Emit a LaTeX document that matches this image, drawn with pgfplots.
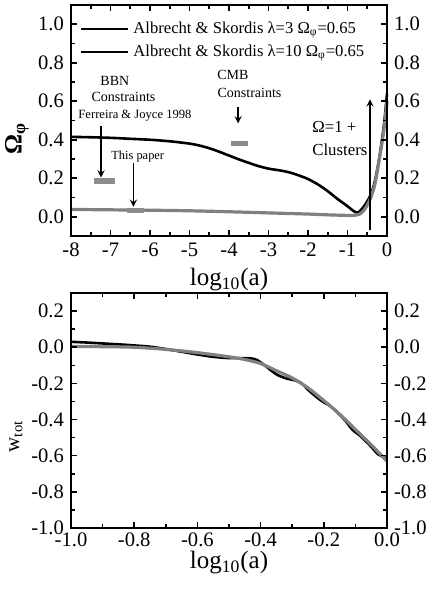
\documentclass[border=0pt]{standalone}
\usepackage{fontspec}
\setmainfont{Liberation Serif}
\usepackage{pgfplots}
\pgfplotsset{compat=1.18}
\definecolor{cgray}{RGB}{128,128,128}
\definecolor{bargray}{RGB}{140,140,140}
\begin{document}
\begin{tikzpicture}
\pgfplotsset{
  common/.style={
    scale only axis, width=158pt,
    axis line style={line width=1pt},
    every tick/.style={black, line width=0.8pt},
    major tick length=3pt, minor tick length=1.8pt,
    tick align=inside, xtick pos=both, ytick pos=both,
    tick label style={font=\fontsize{10.3}{12}\selectfont},
    label style={font=\fontsize{12.5}{14}\selectfont},
    clip=false,
  },
  topx/.style={xmin=-8, xmax=0, ymin=-0.1, ymax=1.1,
    xtick={-8,-7,-6,-5,-4,-3,-2,-1,0}, xticklabels={-8,-7,-6,-5,-4,-3,-2,-1,0},
    ytick={0,0.2,0.4,0.6,0.8,1.0}, yticklabels={0.0,0.2,0.4,0.6,0.8,1.0},
    minor x tick num=1, minor y tick num=1},
  botx/.style={xmin=-1, xmax=0, ymin=-1, ymax=0.3,
    xtick={-1,-0.8,-0.6,-0.4,-0.2,0}, xticklabels={-1.0,-0.8,-0.6,-0.4,-0.2,0.0},
    ytick={-1,-0.8,-0.6,-0.4,-0.2,0,0.2}, yticklabels={-1.0,-0.8,-0.6,-0.4,-0.2,0.0,0.2},
    minor x tick num=1, minor y tick num=1,
    xticklabel style={yshift=1pt}},
}
% ---------------- top panel ----------------
\begin{axis}[common, topx, height=115.5pt,
  at={(35.5pt,-118pt)}, anchor=south west,
  xlabel={log\textsubscript{10}(a)},
  xlabel style={at={(axis description cs:0.5,-0.19)}, anchor=center},
  ylabel={\textbf{Ω}\textsubscript{\textbf{φ}}},
  ylabel style={at={(axis description cs:-0.171,0.424)}, anchor=center, rotate=0},
  legend style={at={(axis cs:-7.78,1.035)}, anchor=north west, draw=none, fill=none,
    font=\fontsize{8.3}{10}\selectfont, inner sep=0pt, row sep=0pt,
    legend cell align=left},
]
\addlegendimage{legend image code/.code={\draw[black,line width=1.2pt] (0pt,0pt) -- (23.5pt,0pt);}}
\addlegendentry{Albrecht \& Skordis λ=3 Ω\textsubscript{φ}=0.65}
\addlegendimage{legend image code/.code={\draw[black,line width=1.2pt] (0pt,0pt) -- (23.5pt,0pt);}}
\addlegendentry{Albrecht \& Skordis λ=10 Ω\textsubscript{φ}=0.65}
\addplot[black, line width=1.3pt, smooth, tension=0.5, forget plot] coordinates {
(-8,0.415) (-7.5,0.413) (-7,0.41) (-6.5,0.405) (-6,0.40) (-5.5,0.392) (-5,0.38)
(-4.75,0.37) (-4.5,0.356) (-4.25,0.338) (-4,0.318) (-3.75,0.298) (-3.5,0.28)
(-3.25,0.263) (-3,0.25) (-2.75,0.242) (-2.5,0.232) (-2.25,0.216) (-2,0.196)
(-1.75,0.168) (-1.5,0.133) (-1.25,0.092) (-1.0,0.055) (-0.9,0.038) (-0.8,0.024)
(-0.75,0.022) (-0.7,0.026) (-0.6,0.05) (-0.5,0.08) (-0.4,0.12) (-0.3,0.19)
(-0.2,0.3) (-0.1,0.44) (-0.05,0.53) (0,0.64)};
\addplot[cgray, line width=1.6pt, smooth, tension=0.5, forget plot] coordinates {
(-8,0.038) (-7,0.036) (-6,0.034) (-5,0.031) (-4,0.026) (-3,0.02) (-2,0.014)
(-1.5,0.01) (-1,0.007) (-0.8,0.008) (-0.7,0.013) (-0.6,0.03) (-0.5,0.06)
(-0.4,0.105) (-0.3,0.175) (-0.2,0.29) (-0.1,0.42) (-0.05,0.5) (0,0.6)};
% constraint bars
\addplot[bargray, line width=3pt, forget plot] coordinates {(-7.41,0.187) (-6.89,0.187)};
\addplot[bargray, line width=2.6pt, forget plot] coordinates {(-6.58,0.031) (-6.15,0.031)};
\addplot[bargray, line width=2.6pt, forget plot] coordinates {(-3.95,0.38) (-3.51,0.38)};
% arrows
\draw[-stealth, line width=0.6pt] (axis cs:-7.24,0.471) -- (axis cs:-7.24,0.204);
\draw[-stealth, line width=0.6pt] (axis cs:-6.42,0.279) -- (axis cs:-6.42,0.052);
\draw[-stealth, line width=0.6pt] (axis cs:-3.77,0.57) -- (axis cs:-3.77,0.485);
\draw[-stealth, line width=0.6pt] (axis cs:-0.43,-0.07) -- (axis cs:-0.43,0.61);
% texts
\node[font=\fontsize{7}{8}\selectfont] at (axis cs:-6.89,0.707) {BBN};
\node[font=\fontsize{7}{8}\selectfont] at (axis cs:-6.67,0.623) {Constraints};
\node[font=\fontsize{6.3}{7}\selectfont] at (axis cs:-6.38,0.524) {Ferreira \& Joyce 1998};
\node[font=\fontsize{6.2}{7}\selectfont] at (axis cs:-6.31,0.314) {This paper};
\node[font=\fontsize{7}{8}\selectfont] at (axis cs:-3.90,0.736) {CMB};
\node[font=\fontsize{7}{8}\selectfont] at (axis cs:-3.48,0.642) {Constraints};
\node[font=\fontsize{8.4}{10}\selectfont, anchor=west, inner sep=0pt] at (axis cs:-1.9,0.468) {Ω=1 +};
\node[font=\fontsize{8.4}{10}\selectfont, anchor=west, inner sep=0pt] at (axis cs:-1.9,0.349) {Clusters};
\end{axis}
\begin{axis}[common, topx, height=115.5pt,
  at={(35.5pt,-118pt)}, anchor=south west,
  yticklabel pos=right, xticklabels={}]
\end{axis}
% ---------------- bottom panel ----------------
\begin{axis}[common, botx, height=117.5pt,
  at={(35.5pt,-264pt)}, anchor=south west,
  xlabel={log\textsubscript{10}(a)},
  xlabel style={at={(axis description cs:0.5,-0.149)}, anchor=center},
  ylabel={w\textsubscript{tot}},
  ylabel style={at={(axis description cs:-0.174,0.39)}, anchor=center, font=\fontsize{10.5}{12}\selectfont},
]
\addplot[black, line width=1.3pt, smooth, tension=0.5] coordinates {
(-1,0.03) (-0.95,0.026) (-0.9,0.021) (-0.85,0.016) (-0.8,0.01) (-0.75,0.003)
(-0.7,-0.01) (-0.65,-0.025) (-0.6,-0.04) (-0.55,-0.053) (-0.5,-0.06) (-0.46,-0.06)
(-0.43,-0.062) (-0.41,-0.072) (-0.38,-0.11) (-0.35,-0.15) (-0.32,-0.172)
(-0.29,-0.184) (-0.27,-0.2) (-0.25,-0.235) (-0.22,-0.28) (-0.2,-0.305)
(-0.18,-0.325) (-0.16,-0.355) (-0.13,-0.41) (-0.11,-0.455) (-0.085,-0.49)
(-0.07,-0.515) (-0.05,-0.55) (-0.03,-0.59) (-0.01,-0.608) (0,-0.615)};
\addplot[cgray, line width=1.6pt, smooth, tension=0.5] coordinates {
(-1,0.005) (-0.9,0.003) (-0.8,0) (-0.7,-0.012) (-0.6,-0.03) (-0.5,-0.053)
(-0.45,-0.068) (-0.4,-0.09) (-0.35,-0.13) (-0.3,-0.17) (-0.25,-0.225)
(-0.2,-0.295) (-0.15,-0.37) (-0.1,-0.455) (-0.05,-0.54) (0,-0.63)};
\end{axis}
\begin{axis}[common, botx, height=117.5pt,
  at={(35.5pt,-264pt)}, anchor=south west,
  yticklabel pos=right, xticklabels={}]
\end{axis}
\pgfresetboundingbox
\path[use as bounding box] (0pt,0pt) rectangle (214.5pt,-294.5pt);
\end{tikzpicture}
\end{document}
